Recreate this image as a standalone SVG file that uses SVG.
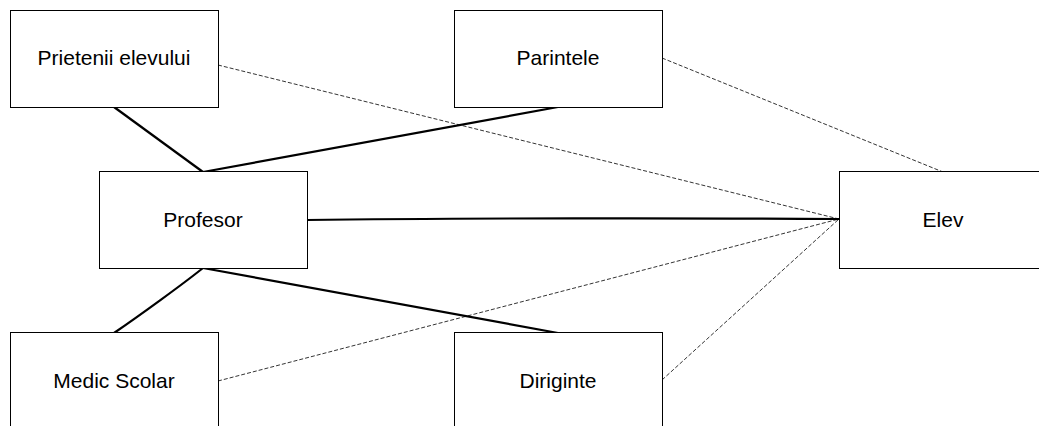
<svg xmlns="http://www.w3.org/2000/svg" width="1039" height="426" viewBox="0 0 1039 426">
<style>
.box{fill:#fff;stroke:#000;stroke-width:1}
.lbl{font-family:"Liberation Sans",Arial,sans-serif;font-size:21px;fill:#000;text-anchor:middle}
.solid{fill:none;stroke:#000;stroke-width:2.2}
.dash{fill:none;stroke:#000;stroke-width:0.8;stroke-dasharray:4 2}
</style>
<rect width="1039" height="426" fill="#fff"/>
<g id="connectors">
<path class="dash" d="M218,65 L839,219"/>
<path class="dash" d="M662,58 L943,172"/>
<path class="dash" d="M218,381 L839,219"/>
<path class="dash" d="M662,380 L839,219"/>
<path class="solid" d="M114,107 L203,172"/>
<path class="solid" d="M558,107 L203,172"/>
<path class="solid" d="M307,220 C450,218 700,218 839,219"/>
<path class="solid" d="M203,268 C183,284 139,316 114,333"/>
<path class="solid" d="M203,268 L558,333"/>
</g>
<g id="prietenii"><rect class="box" x="10.5" y="10.5" width="208" height="97"/><text class="lbl" x="114" y="65">Prietenii elevului</text></g>
<g id="parintele"><rect class="box" x="454.5" y="10.5" width="208" height="97"/><text class="lbl" x="558" y="65">Parintele</text></g>
<g id="profesor"><rect class="box" x="99.5" y="171.5" width="208" height="97"/><text class="lbl" x="203" y="227">Profesor</text></g>
<g id="elev"><rect class="box" x="839.5" y="171.5" width="208" height="97"/><text class="lbl" x="943" y="227">Elev</text></g>
<g id="medic"><rect class="box" x="10.5" y="332.5" width="208" height="97"/><text class="lbl" x="114" y="388">Medic Scolar</text></g>
<g id="diriginte"><rect class="box" x="454.5" y="332.5" width="208" height="97"/><text class="lbl" x="558" y="388">Diriginte</text></g>
</svg>
